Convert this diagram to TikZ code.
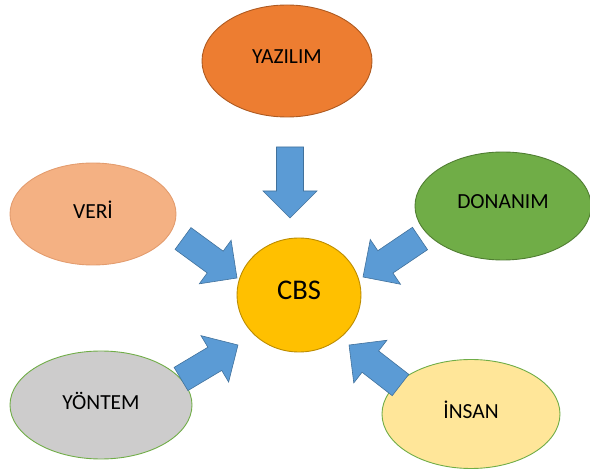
\documentclass[tikz,border=0pt]{standalone}
\usepackage{fontspec}
\setmainfont{Carlito}
\usetikzlibrary{shapes.geometric,calc}

\definecolor{orangeA}{HTML}{ED7D31}\definecolor{orangeB}{HTML}{AE5A21}
\definecolor{salmonA}{HTML}{F4B183}\definecolor{salmonB}{HTML}{E39C6E}
\definecolor{greenA}{HTML}{70AD47}\definecolor{greenB}{HTML}{507E32}
\definecolor{goldA}{HTML}{FFC000}\definecolor{goldB}{HTML}{BC8C00}
\definecolor{grayA}{HTML}{CDCCCC}
\definecolor{creamA}{HTML}{FFE699}
\definecolor{blueA}{HTML}{5B9BD5}\definecolor{blueB}{HTML}{41719C}

\tikzset{
  topic/.style={ellipse, inner sep=0pt, line width=0.9pt,
    minimum width=#1, font=\fontsize{21.5}{26}\selectfont, text depth=8pt},
  arrowbody/.style={fill=blueA, draw=blueB, line width=0.6pt, line join=miter},
}

% block arrow from tail point #1 to tip point #2
\newcommand\flowarrow[2]{%
  \path[arrowbody] let \p1=(#1), \p2=(#2),
    \n1={atan2(\y2-\y1,\x2-\x1)}, \n2={veclen(\x2-\x1,\y2-\y1)} in
    {[shift={(\p1)}, rotate=\n1]
     (0,-13.5) -- ({\n2-27},-13.5) -- ({\n2-27},-27) -- (\n2,0)
     -- ({\n2-27},27) -- ({\n2-27},13.5) -- (0,13.5) -- cycle};
}

\begin{document}
\begin{tikzpicture}[x=1pt,y=-1pt]
  \useasboundingbox (0,0) rectangle (590,473);

  \node[topic=170pt, minimum height=112pt, fill=orangeA, draw=orangeB]
    (yaz) at (287,61) {YAZILIM};
  \node[topic=166pt, minimum height=102pt, fill=salmonA, draw=salmonB]
    (veri) at (93,214) {VERİ};
  \node[topic=176pt, minimum height=108pt, fill=greenA, draw=greenB]
    (don) at (503,206) {DONANIM};
  \node[topic=182pt, minimum height=108pt, fill=grayA, draw=greenA]
    (yon) at (101,405) {YÖNTEM};
  \node[topic=178pt, minimum height=109pt, fill=creamA, draw=greenA]
    (insan) at (471,414) {İNSAN};
  \node[ellipse, inner sep=0pt, minimum width=124pt, minimum height=114pt,
    fill=goldA, draw=goldB, line width=0.9pt,
    font=\fontsize{28.5}{34}\selectfont, text depth=10pt]
    (cbs) at (299,295) {CBS};

  % tails and tips of the block arrows
  \coordinate (t1) at (290,147);   \coordinate (h1) at (290,218);
  \coordinate (t2) at (183,238.5); \coordinate (h2) at (237,278);
  \coordinate (t3) at (420,238.5); \coordinate (h3) at (363,277);
  \coordinate (t4) at (181,379);   \coordinate (h4) at (238,345);
  \coordinate (t5) at (400.5,385); \coordinate (h5) at (349,345);

  \flowarrow{t1}{h1}
  \flowarrow{t2}{h2}
  \flowarrow{t3}{h3}
  \flowarrow{t4}{h4}
  \flowarrow{t5}{h5}
\end{tikzpicture}
\end{document}
